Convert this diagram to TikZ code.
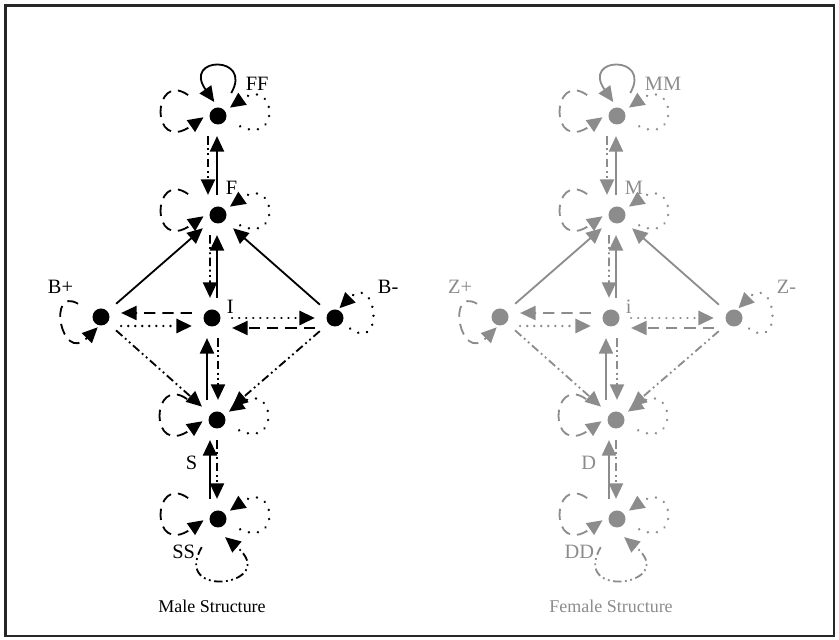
\documentclass[tikz,border=0pt]{standalone}
\usepackage{fontspec}
\setmainfont{Liberation Serif}
\usetikzlibrary{arrows.meta}

\colorlet{grey}{black!45}

\begin{document}
\begin{tikzpicture}[
  >={Triangle[length=11pt,width=10pt]}, line width=1.3pt,
  every node/.style={font=\fontsize{14.5}{17}\selectfont, inner sep=0pt},
  dot/.style={circle, fill, minimum size=0.425cm, outer sep=0.15cm},
  caption/.style={font=\fontsize{12.8}{15}\selectfont},
  solidarr/.style={->, shorten >=4pt, shorten <=4pt},
  dasharr/.style={solidarr, dash pattern=on 8pt off 5pt},
  dotarr/.style={solidarr, line width=1.9pt, line cap=round, dash pattern=on 0.01pt off 5pt},
  ddotarr/.style={solidarr, dash pattern=on 6pt off 2.5pt on 1.3pt off 2.5pt on 1.3pt off 2.5pt},
  dashloop/.style={->, dash pattern=on 8pt off 5pt, out=145, in=215, distance=1.65cm, shorten <=0.55cm},
  dotloop/.style={->, line width=1.9pt, line cap=round, dash pattern=on 0.01pt off 6.5pt, out=-25, in=35, distance=1.4cm, shorten <=0.25cm},
  solidloop/.style={->, out=60, in=125, distance=1.4cm, shorten <=0.3cm},
  ddotloop/.style={->, dash pattern=on 6pt off 2.5pt on 1.3pt off 2.5pt on 1.3pt off 2.5pt,
    out=240, in=-40, distance=2cm, shorten <=0.45cm, shorten >=0.15cm},
  bploop/.style={->, dash pattern=on 8pt off 5pt, out=150, in=225, distance=1.2cm, shorten <=0.3cm, shorten >=-0.1cm},
  bmloop/.style={->, line width=1.9pt, line cap=round, dash pattern=on 0.01pt off 6.5pt, out=-35, in=45, distance=1.2cm, shorten <=0.1cm, shorten >=-0.1cm}]

  \useasboundingbox (0,0) rectangle (20.975,16);
  \draw[line width=2.1pt, black!85] (0.1375,0.1) rectangle (20.85,15.86);

  \foreach \dx/\ink/\tff/\tf/\ti/\tbp/\tbm/\ts/\tss/\tcap in
    {0/black/FF/F/I/B+/B-/S/SS/Male Structure,
     9.975/grey/MM/M/i/Z+/Z-/D/DD/Female Structure}{
  \begin{scope}[xshift=\dx cm, color=\ink]

    \node[dot] (ff) at (5.45,  13.1)   {};
    \node[dot] (f)  at (5.45,  10.625) {};
    \node[dot] (i)  at (5.3,   8.05)   {};
    \node[dot] (bp) at (2.525, 8.075)  {};
    \node[dot] (bm) at (8.375, 8.05)   {};
    \node[dot] (s)  at (5.425, 5.5)    {};
    \node[dot] (ss) at (5.45,  3.025)  {};

    \node[anchor=west] (ffl) at (6.125, 13.9)  {\tff};
    \node[anchor=west] (fl)  at (5.625, 11.3)  {\tf};
    \node[anchor=west] (il)  at (5.65,  8.325) {\ti};
    \node[anchor=east] (bpl) at (1.85,  8.825) {\tbp};
    \node[anchor=west] (bml) at (9.425, 8.825) {\tbm};
    \node[anchor=east] (sl)  at (4.95,  4.425) {\ts};
    \node[anchor=east] (ssl) at (4.9,   2.2)   {\tss};
    \node[caption]     (cap) at (5.3,   0.85)  {\tcap};

    \path
      ([xshift=-0.025cm]f.north)  edge[solidarr] ([xshift=-0.025cm]ff.south)
      ([xshift=-0.25cm]ff.south)  edge[ddotarr]  ([xshift=-0.25cm]f.north)
      ([xshift=0.125cm]i.north)   edge[solidarr] ([xshift=-0.025cm]f.south)
      ([xshift=-0.2cm]f.south)    edge[ddotarr]  ([xshift=-0.05cm]i.north)
      ([xshift=-0.25cm]s.north)   edge[solidarr] ([xshift=-0.125cm]i.south)
      ([xshift=0.15cm]i.south)    edge[ddotarr]  ([xshift=0.025cm]s.north)
      ([xshift=-0.2cm]ss.north)   edge[solidarr] ([xshift=-0.175cm]s.south)
      (s.south)                   edge[ddotarr]  ([xshift=-0.025cm]ss.north)

      ([yshift=0.125cm]i.west)    edge[dasharr]  ([yshift=0.1cm]bp.east)
      ([yshift=-0.225cm]bp.east)  edge[dotarr]   ([yshift=-0.2cm]i.west)
      (i.east)                    edge[dotarr]   (bm.west)
      ([yshift=-0.25cm]bm.west)   edge[dasharr]  ([yshift=-0.25cm]i.east)

      (bp) edge[solidarr] (f)
      (bm) edge[solidarr] (f)
      (bp) edge[ddotarr]  (s)
      (bm) edge[ddotarr]  (s)
    ;

    % self loops
    \path
      (ff) edge[solidloop] (ff.105)
      (ff) edge[dashloop]  (ff.185)
      (ff) edge[dotloop]   (ff)
      (f)  edge[dashloop]  (f.185)
      (f)  edge[dotloop]   (f)
      (bp) edge[bploop]    (bp.245)
      (bm) edge[bmloop]    (bm.60)
      (s)  edge[dashloop]  (s.185)
      (s)  edge[dotloop]   (s)
      (ss) edge[dashloop]  (ss.185)
      (ss) edge[dotloop]   (ss)
      (ss) edge[ddotloop]  (ss.280)
    ;

  \end{scope}}

\end{tikzpicture}
\end{document}
